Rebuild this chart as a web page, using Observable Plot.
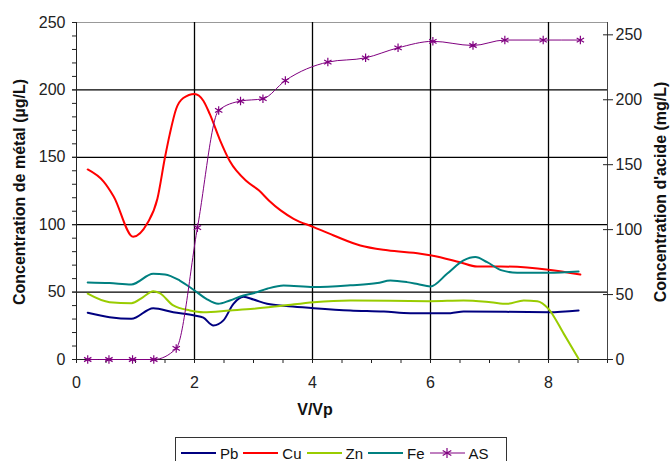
<!DOCTYPE html>
<html><head><meta charset="utf-8">
<script src="https://cdn.jsdelivr.net/npm/d3@7"></script>
<script src="https://cdn.jsdelivr.net/npm/@observablehq/plot@0.6"></script>
<style>
body{margin:0;background:#fff;font-family:"Liberation Sans",Arial,sans-serif;}
#wrap{position:relative;width:670px;height:461px;overflow:hidden;background:#fff;}
#wrap svg{position:absolute;left:0;top:0;}
.t{position:absolute;font-weight:bold;font-size:16px;color:#111;white-space:nowrap;transform:translate(-50%,-50%);}
.rot{transform:translate(-50%,-50%) rotate(-90deg);}
#legend{position:absolute;left:175px;top:437px;width:332px;height:32px;border:1px solid #333;box-sizing:border-box;display:flex;align-items:center;padding-left:5px;font-size:15px;color:#111;}
#legend .it{display:flex;align-items:center;margin-right:5px;}
#legend svg{position:static;margin-right:4px;}
</style></head>
<body><div id="wrap"></div>
<script>
// Data (x = V/Vp)
const pb = [[0.19,34.7],[0.56,31.4],[0.93,30.2],[1.3,38.1],[1.64,35.1],[2.0,32.7],[2.15,31],[2.32,25.2],[2.49,29],[2.66,41.3],[2.83,46.5],[3.0,44.5],[3.23,41.3],[3.6,39.5],[4.02,38.1],[4.64,36.4],[5.21,35.6],[5.66,34.4],[6.34,34.4],[6.56,35.6],[8.0,35.1],[8.51,36.4]];
const cu = [[0.19,141],[0.46,132],[0.63,121],[0.96,91],[1.2,101],[1.37,119],[1.5,150],[1.58,167],[1.69,186],[1.81,194],[2.0,197],[2.15,192],[2.26,182],[2.43,163],[2.6,147],[2.89,132],[3.09,125.5],[3.26,118],[3.46,110.6],[3.68,104.4],[4.02,98.2],[4.36,92],[4.81,84.6],[5.27,81],[5.83,78.5],[6.02,77.2],[6.5,72.2],[6.79,69],[7.19,69],[8.0,66.6],[8.54,63]];
const zn = [[0.19,48.8],[0.56,42.5],[0.93,41.8],[1.13,46.3],[1.3,50.7],[1.41,49.2],[1.64,40.1],[1.92,36.4],[2.15,35.1],[2.6,36.4],[3.0,37.6],[3.51,40],[4.02,42.5],[4.64,43.8],[6.0,43.3],[6.56,43.8],[7.02,42.5],[7.3,41.3],[7.58,43.8],[7.81,43.3],[8.0,37.6],[8.26,19],[8.51,0.5]];
const fe = [[0.19,57.2],[0.56,56.7],[0.93,55.7],[1.3,63.6],[1.5,63.1],[1.75,58.6],[2.0,51.2],[2.2,45],[2.4,41.3],[2.6,43.8],[2.83,47.5],[3.0,49.2],[3.23,52.5],[3.51,54.9],[4.02,53.7],[4.64,55],[5.1,56.7],[5.32,58.6],[5.6,57.4],[5.78,56],[6.0,54.2],[6.28,63.6],[6.56,73.5],[6.76,76],[6.96,72.2],[7.21,66.1],[7.47,64.4],[8.0,64.4],[8.51,65.3]];
const asX = [0.19,0.55,0.95,1.31,1.69,2.05,2.41,2.78,3.16,3.54,4.26,4.9,5.45,6.04,6.72,7.26,7.91,8.54];
const asV = [0,0,0,0,8.5,101.5,191.8,199,200.8,214.8,229,232.3,240,245,241.8,246,246,246];

const seriesNames = ["Pb","Cu","Zn","Fe","AS"];
const seriesColors = ["#000080","#ff0000","#99cc00","#008080","#800080"];

const xMajor = [0,2,4,6,8];
const xMinor = d3.range(0,9.001,0.5);
const xGrid = [2,4,6,8];
const yMajor = [0,50,100,150,200,250];
const yMinor = d3.range(0,251,10);
const yGrid = [50,100,150,200];
const yRight = [0,50,100,150,200,250];

const asData = asX.map((x,i)=>[x,asV[i]]);
const metals = [pb,cu,zn,fe];

const common = {
  width:670, height:430, marginTop:22, marginRight:63, marginBottom:71, marginLeft:76,
  style:{fontFamily:"'Liberation Sans', Arial, sans-serif", fontSize:"16px", color:"#222", background:"transparent", overflow:"visible"}
};

const main = Plot.plot({
  ...common,
  x:{domain:[0,9]},
  y:{domain:[0,250]},
  marks:[
    Plot.frame({stroke:"#999"}),
    Plot.gridX(xGrid,{stroke:"#000",strokeOpacity:1,strokeWidth:1.3}),
    Plot.gridY(yGrid,{stroke:"#000",strokeOpacity:1,strokeWidth:1.3}),
    Plot.ruleX([0],{stroke:"#222"}),
    Plot.ruleY([0],{stroke:"#222"}),
    Plot.ruleX([9],{stroke:"#444"}),
    Plot.axisY(yMajor,{tickSize:4,tickPadding:7,label:null}),
    Plot.axisY(yMinor,{tickSize:4,tickFormat:()=>"",label:null}),
    Plot.axisX(xMajor,{tickSize:0,tickPadding:17,label:null}),
    Plot.axisX(xMinor,{tickSize:4,tickFormat:()=>"",label:null}),
    ...metals.map((s,i)=>Plot.line(s,{x:d=>d[0],y:d=>d[1],stroke:seriesColors[i],strokeWidth:2,curve:"monotone-x"}))
  ]
});

const right = Plot.plot({
  ...common,
  x:{domain:[0,9],axis:null},
  y:{domain:[0,259.5]},
  marks:[
    Plot.axisY(yRight,{anchor:"right",tickSize:10,dx:-5,tickPadding:3,label:null}),
    Plot.line(asData,{x:d=>d[0],y:d=>d[1],stroke:seriesColors[4],strokeWidth:1,curve:"monotone-x"}),
    Plot.dot(asData,{x:d=>d[0],y:d=>d[1],symbol:"asterisk",r:4,stroke:seriesColors[4],strokeWidth:1.2})
  ]
});

const wrap = document.getElementById("wrap");
wrap.appendChild(main);
wrap.appendChild(right);

function addText(txt,x,y,cls){const d=document.createElement("div");d.className="t "+(cls||"");d.textContent=txt;d.style.left=x+"px";d.style.top=y+"px";wrap.appendChild(d);}
addText("Concentration de métal (µg/L)",20,192,"rot");
addText("Concentration d'acide (mg/L)",661,192,"rot");
addText("V/Vp",315,410);

const lg = document.createElement("div"); lg.id="legend";
seriesNames.forEach((n,i)=>{
  const it=document.createElement("div"); it.className="it";
  const star = n==="AS" ? `<g stroke="${seriesColors[i]}" stroke-width="1.2"><line x1="17" y1="2" x2="17" y2="12"/><line x1="12.7" y1="4.5" x2="21.3" y2="9.5"/><line x1="12.7" y1="9.5" x2="21.3" y2="4.5"/></g>` : "";
  it.innerHTML=`<svg width="35" height="14"><line x1="0" y1="7" x2="35" y2="7" stroke="${seriesColors[i]}" stroke-width="${n==="AS"?1:2}"/>${star}</svg><span>${n}</span>`;
  lg.appendChild(it);
});
wrap.appendChild(lg);
</script></body></html>
